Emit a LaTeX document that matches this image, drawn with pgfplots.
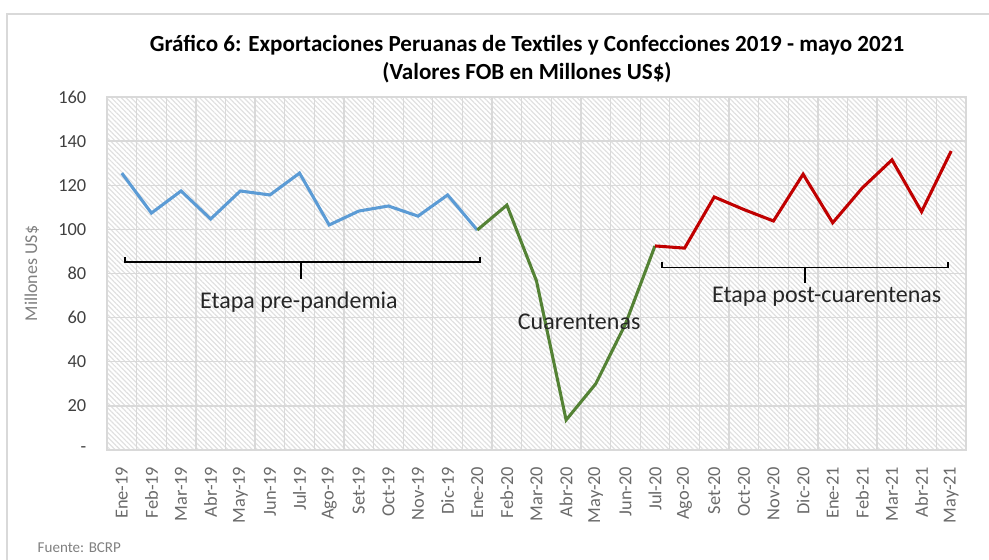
\documentclass[border=0pt]{standalone}
\usepackage{pgfplots}
\pgfplotsset{compat=1.18}
\usepackage{fontspec}
\setmainfont{Carlito}
\usetikzlibrary{patterns.meta}
\definecolor{lblue}{HTML}{5B9BD5}
\definecolor{lgreen}{HTML}{548235}
\definecolor{lred}{HTML}{C00000}
\definecolor{gridc}{HTML}{D9D9D9}
\definecolor{hatchc}{HTML}{E0E0E0}
\definecolor{ytxt}{HTML}{404040}
\definecolor{xtxt}{HTML}{6A6A6A}
\begin{document}
\begin{tikzpicture}
\path[use as bounding box] (0,0) rectangle (989*0.75pt,-560*0.75pt);
\draw[gridc, line width=1.5pt] (7*0.75pt,-560*0.75pt) -- (7*0.75pt,-14*0.75pt) -- (989*0.75pt,-14*0.75pt);
\node[font=\fontsize{17.3}{20}\selectfont\bfseries] at (527*0.75pt,-45*0.75pt) {Gráfico 6: Exportaciones Peruanas de Textiles y Confecciones 2019 - mayo 2021};
\node[font=\fontsize{17.3}{20}\selectfont\bfseries] at (527*0.75pt,-73*0.75pt) {(Valores FOB en Millones US\$)};
\node[font=\fontsize{11.3}{13}\selectfont, text=gray, anchor=west] at (33*0.75pt,-548*0.75pt) {Fuente: BCRP};
\begin{axis}[
  at={(107*0.75pt,-450*0.75pt)}, anchor=south west,
  scale only axis, width=859*0.75pt, height=353*0.75pt,
  xmin=-0.5, xmax=28.5, ymin=0, ymax=160,
  axis background/.style={pattern={Lines[angle=-45,distance=2.6pt,line width=0.9pt]}, pattern color=hatchc},
  axis line style={draw=gridc, line width=1pt},
  ymajorgrids, xminorgrids,
  major grid style={draw=gridc, line width=1pt},
  minor grid style={draw=gridc, line width=1pt},
  major tick length=0pt, minor tick length=0pt,
  ytick={0,20,40,60,80,100,120,140,160},
  yticklabels={-\hspace{8pt},20,40,60,80,100,120,140,160},
  xtick={0,1,2,3,4,5,6,7,8,9,10,11,12,13,14,15,16,17,18,19,20,21,22,23,24,25,26,27,28},
  minor xtick={-0.5,0.5,1.5,2.5,3.5,4.5,5.5,6.5,7.5,8.5,9.5,10.5,11.5,12.5,13.5,14.5,15.5,16.5,17.5,18.5,19.5,20.5,21.5,22.5,23.5,24.5,25.5,26.5,27.5,28.5},
  xticklabels={Ene-19,Feb-19,Mar-19,Abr-19,May-19,Jun-19,Jul-19,Ago-19,Set-19,Oct-19,Nov-19,Dic-19,Ene-20,Feb-20,Mar-20,Abr-20,May-20,Jun-20,Jul-20,Ago-20,Set-20,Oct-20,Nov-20,Dic-20,Ene-21,Feb-21,Mar-21,Abr-21,May-21},
  /pgf/number format/assume math mode=true,
  ticklabel style={font=\fontsize{13.8}{16}\selectfont},
  yticklabel style={text=ytxt},
  yticklabel shift=12pt,
  xticklabel shift=9pt,
  xticklabel style={rotate=90, anchor=east, text=xtxt},
  ylabel={Millones US\$},
  every axis y label/.style={at={(axis description cs:0,0.5)}, xshift=-75*0.75pt, rotate=90, anchor=center, font=\fontsize{13.5}{15}\selectfont, text=gray},
  clip=false,
]
\addplot[lblue, line width=2.3pt] coordinates {
 (0,125.5) (1,107.4) (2,117.4) (3,104.7) (4,117.4) (5,115.6) (6,125.5)
 (7,102) (8,108.3) (9,110.6) (10,106) (11,115.6) (12,99.7)};
\addplot[lgreen, line width=2.3pt] coordinates {
 (12,99.7) (13,111) (14,76.6) (15,13.6) (16,30) (17,57) (18,92.5)};
\addplot[lred, line width=2.3pt] coordinates {
 (18,92.5) (19,91.5) (20,114.7) (21,109) (22,103.8) (23,125) (24,103) (25,118.8) (26,131.5) (27,108) (28,135.5)};
% brackets
\draw[black, line width=1.4pt] (axis cs:0.1,87.3) -- (axis cs:0.1,85.2) -- (axis cs:12.1,85.2) -- (axis cs:12.1,87.3);
\draw[black, line width=1.4pt] (axis cs:6.05,85.2) -- (axis cs:6.05,77.6);
\draw[black, line width=1.4pt] (axis cs:18.25,85) -- (axis cs:18.25,82.7) -- (axis cs:27.9,82.7) -- (axis cs:27.9,85);
\draw[black, line width=1.4pt] (axis cs:23.05,82.7) -- (axis cs:23.05,75.6);
\node[font=\fontsize{18}{20}\selectfont, text=black!85] at (axis cs:5.98,67) {Etapa pre-pandemia};
\node[font=\fontsize{18}{20}\selectfont, text=black!85] at (axis cs:23.8,69.5) {Etapa post-cuarentenas};
\node[font=\fontsize{18}{20}\selectfont, text=black!85] at (axis cs:15.44,58.2) {Cuarentenas};
\end{axis}
\end{tikzpicture}
\end{document}
